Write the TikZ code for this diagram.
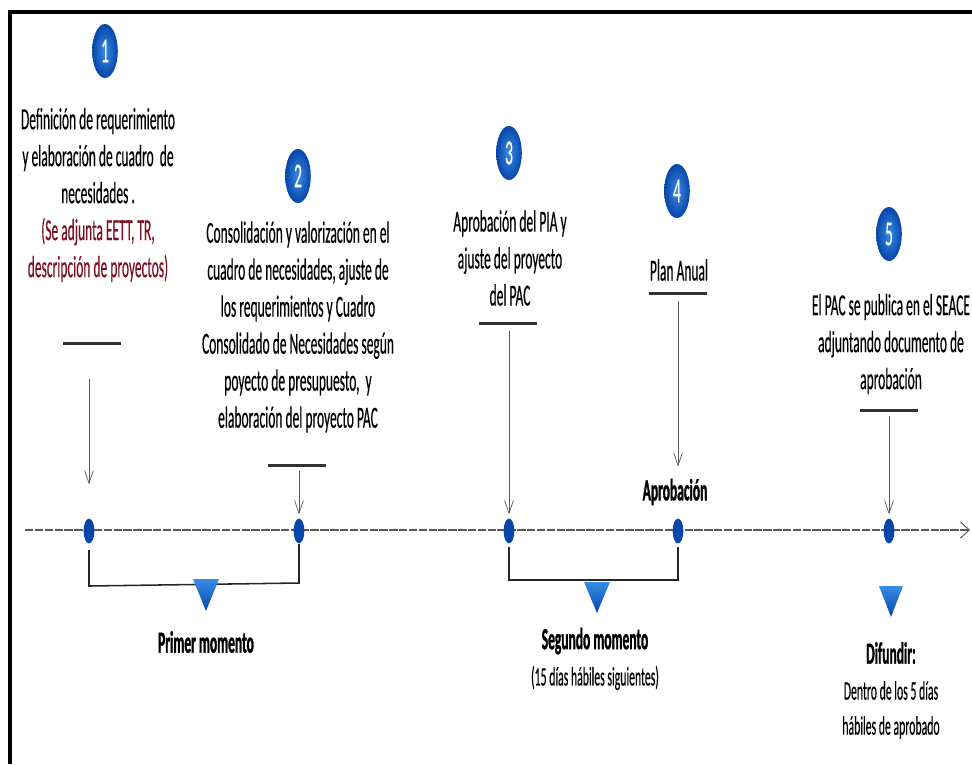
\documentclass[tikz,border=0pt]{standalone}
\usepackage{fontspec}
\setmainfont{Carlito}[FakeStretch=0.44, UprightFeatures={FakeBold=0.3}, BoldFeatures={FakeBold=1}]
\usetikzlibrary{shapes.geometric,arrows.meta,calc}

\definecolor{pacblue}{RGB}{8,70,170}
\definecolor{pacblueL}{RGB}{55,140,230}
\definecolor{pacred}{RGB}{125,15,35}
\definecolor{bargray}{RGB}{50,50,50}

\tikzset{
  numcirc/.style={ellipse, inner sep=0pt, minimum width=0.64cm, minimum height=1.35cm,
    inner color=pacblueL, outer color=pacblue, text=white,
    font=\fontsize{25}{26}\selectfont},
  txt/.style={align=center, inner sep=0pt, font=\fontsize{21.8}{26.3}\selectfont},
  boldtxt/.style={txt, font=\bfseries\fontsize{21.8}{26.3}\selectfont},
  smalltxt/.style={align=center, inner sep=0pt, font=\fontsize{19}{24.9}\selectfont},
  dot/.style={ellipse, fill=pacblue, inner sep=0pt, minimum width=0.27cm, minimum height=0.62cm},
  bar/.style={fill=bargray, inner sep=0pt, minimum width=1.45cm, minimum height=0.075cm},
  pointer/.style={draw=gray!70!black, line width=0.5pt, -{Straight Barb[length=0.32cm, width=0.22cm]}},
  bracket/.style={draw=black!85, line width=1.1pt},
  marker/.style={top color=pacblueL, bottom color=pacblue}
}

\begin{document}
\begin{tikzpicture}[x=0.025cm, y=-0.025cm]
    \useasboundingbox (0,0) rectangle (972,764);
    % frame
    \draw[line width=0.1cm] (10,764) -- (10,12) -- (972,12);

    % numbered steps
    \node[numcirc] (c1) at (105,51) {1};
    \node[numcirc] (c2) at (298,176) {2};
    \node[numcirc] (c3) at (509,153) {3};
    \node[numcirc] (c4) at (677,191) {4};
    \node[numcirc] (c5) at (889,234) {5};

    \node[txt] (t1) at (98,195) {Definición de requerimiento\\y elaboración de cuadro~~de\\necesidades .\\
        \textcolor{pacred}{(Se adjunta EETT, TR,}\\\textcolor{pacred}{descripción de proyectos)}};
    \node[txt] (t2) at (298,327) {Consolidación y valorización en el\\cuadro de necesidades, ajuste de\\los requerimientos y Cuadro\\
        Consolidado de Necesidades según\\poyecto de presupuesto,~~y\\elaboración del proyecto PAC};
    \node[txt] (t3) at (510,258) {Aprobación del PIA y\\ajuste del proyecto\\del PAC};
    \node[txt] (t4) at (679,270) {Plan Anual};
    \node[txt] (t5) at (891,344) {El PAC se publica en el SEACE\\adjuntando documento de\\aprobación};

    % bars under the texts
    \node[bar] (b1) at (92,343) {};
    \node[bar] (b2) at (297,465) {};
    \node[bar] (b3) at (508,323) {};
    \node[bar] (b4) at (678,293) {};
    \node[bar] (b5) at (889,410) {};

    % timeline
    \coordinate (tl0) at (25,530);
    \coordinate (tl1) at (970,530);
    \draw[gray!70!black, line width=1.3pt, dash pattern=on 6pt off 1pt,
        -{Straight Barb[length=0.22cm, width=0.4cm, line width=0.7pt]}] (tl0) -- (tl1);

    \node[dot] (d1) at (89,531) {};
    \node[dot] (d2) at (299,531) {};
    \node[dot] (d3) at (509,531) {};
    \node[dot] (d4) at (678,531) {};
    \node[dot] (d5) at (889,531) {};

    \node[boldtxt] (ap) at (675,492) {Aprobación};

    % pointers
    \coordinate (s1) at (89,379);
    \draw[pointer, shorten >=0.85cm] (s1) -- (d1);
    \draw[pointer, shorten <=0.1cm, shorten >=0.1cm] (b2.south -| d2) -- (d2);
    \draw[pointer, shorten <=0.15cm, shorten >=0.1cm] (b3.south -| d3) -- (d3);
    \draw[pointer, shorten <=0.15cm, shorten >=0.3cm] (b4.south) -- (b4.south |- ap.north);
    \draw[pointer, shorten <=0.1cm, shorten >=0.1cm] (b5.south -| d5) -- (d5);

    % brackets and markers
    \draw[bracket] ($(d1)+(0,19)$) -- ($(d1)+(0,55)$) -- ($(d2)+(0,52)$) -- ($(d2)+(0,13)$);
    \draw[bracket] ($(d3)+(0,16)$) |- ($(d4)+(0,49)$) -- ($(d4)+(0,16)$);
    \shade[marker] (193,579) -- (219,579) -- (206,611) -- cycle;
    \shade[marker] (584,582) -- (610,582) -- (597,613) -- cycle;
    \shade[marker] (879,586) -- (903,586) -- (891,617) -- cycle;

    \node[boldtxt] (pm) at (206,642) {Primer momento};
    \node[boldtxt] (sm) at (595,641) {Segundo momento};
    \node[smalltxt] (smd) at (595,678) {(15 días hábiles siguientes)};
    \node[boldtxt] (df) at (891,653) {Difundir:};
    \node[smalltxt] (dfd) at (891,710) {Dentro de los 5 días\\hábiles de aprobado};
\end{tikzpicture}
\end{document}
